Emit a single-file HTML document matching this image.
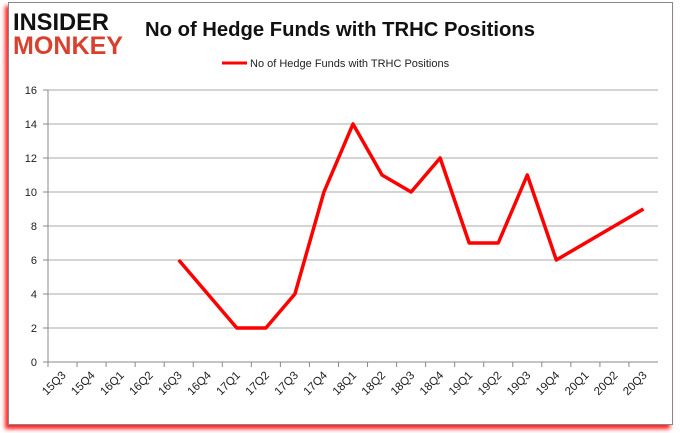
<!DOCTYPE html>
<html><head><meta charset="utf-8"><style>
body{margin:0;background:#fff;width:680px;height:433px;overflow:hidden;font-family:"Liberation Sans",sans-serif}
#frame{position:absolute;left:8px;top:2px;width:663px;height:421px;border:1px solid #888;background:#fff;box-shadow:-3px 4px 4px #f22}
</style></head><body>
<div id="frame"></div>
<svg id="c" width="680" height="433" style="position:absolute;left:0;top:0">
<g font-family="Liberation Sans" font-weight="bold">
<text x="13" y="30" font-size="24" fill="#111" textLength="96" lengthAdjust="spacingAndGlyphs">INSIDER</text>
<text x="13" y="54" font-size="25" fill="#d9412f" textLength="110" lengthAdjust="spacingAndGlyphs">MONKEY</text>
</g>
<text x="340" y="36" text-anchor="middle" font-size="20" font-weight="bold" fill="#111" textLength="390" lengthAdjust="spacingAndGlyphs">No of Hedge Funds with TRHC Positions</text>
<g>
<line x1="222" y1="63" x2="247" y2="63" stroke="#f00" stroke-width="3"/>
<text x="250" y="67" font-size="11" fill="#222">No of Hedge Funds with TRHC Positions</text>
</g>
<g id="grid"></g><g id="axes"></g><g id="series"></g>
</svg>
<script>
const categories=["15Q3","15Q4","16Q1","16Q2","16Q3","16Q4","17Q1","17Q2","17Q3","17Q4","18Q1","18Q2","18Q3","18Q4","19Q1","19Q2","19Q3","19Q4","20Q1","20Q2","20Q3"];
const values=[null,null,null,null,6,4,2,2,4,10,14,11,10,12,7,7,11,6,7,8,9];
const yTicks=[0,2,4,6,8,10,12,14,16];
const NS="http://www.w3.org/2000/svg";
const x0=48,x1=658,y0=362,y1=90,yMax=16;
const bw=(x1-x0)/categories.length;
function xs(i){return x0+bw*(i+0.5);}
function ys(v){return y0-(v/yMax)*(y0-y1);}
function mk(t,a,p){const e=document.createElementNS(NS,t);for(const k in a)e.setAttribute(k,a[k]);p.appendChild(e);return e;}
const grid=document.getElementById('grid'),axes=document.getElementById('axes'),series=document.getElementById('series');
yTicks.forEach(v=>{
 const y=ys(v);
 if(v>0){const g=mk('line',{x1:x0,x2:x1,y1:y,y2:y,stroke:'#aaa','stroke-width':1},grid);
 
 }
 const tk=mk('line',{x1:x0-5,x2:x0,y1:y,y2:y,stroke:'#888'},axes);
 
 
 const t=mk('text',{x:x0-11,y:y+4,'text-anchor':'end','font-size':11,fill:'#222'},axes);
 t.textContent=v;
 
 
});
const ya=mk('line',{x1:x0,x2:x0,y1:y1,y2:y0,stroke:'#888'},axes);


const xa=mk('line',{x1:x0,x2:x1,y1:y0,y2:y0,stroke:'#888'},axes);


categories.forEach((c,i)=>{
 const tx=x0+bw*i;
 const tk=mk('line',{x1:tx,x2:tx,y1:y0,y2:y0+5,stroke:'#888'},axes);
 
 
 const cx=xs(i);
 const t=mk('text',{x:cx+4,y:y0+14,'text-anchor':'end','font-size':11.5,fill:'#222',transform:`rotate(-45 ${cx+4} ${y0+14})`},axes);
 t.textContent=c;
 
 
});
let d='';values.forEach((v,i)=>{if(v==null)return;d+=(d?'L':'M')+xs(i)+' '+ys(v);});
const p=mk('path',{d:d,fill:'none',stroke:'#f00','stroke-width':3.5,'stroke-linejoin':'round'},series);


</script>
</body></html>
